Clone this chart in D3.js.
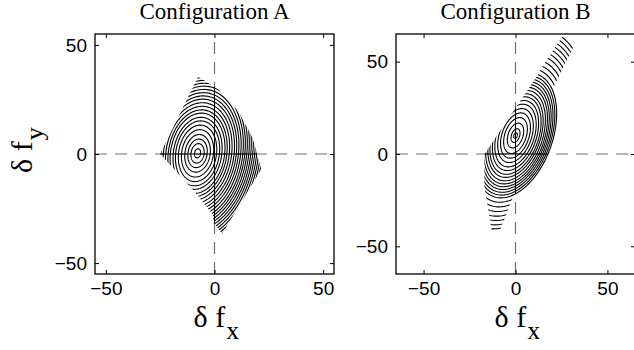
<!DOCTYPE html>
<meta charset="utf-8">
<script src="https://cdn.jsdelivr.net/npm/d3@7"></script>
<style>
body { margin: 0; background: #fff; }
.tick text { font-family: "Liberation Sans", Arial, sans-serif; font-size: 19px; fill: #000; }
.tick line { stroke: #000; stroke-width: 1; }
.lab { font-family: "Liberation Serif", "Times New Roman", serif; fill: #000; }
</style>
<body>
<script>

var width = 634
var height = 350

// axes
var ticks = [-50, 0, 50]
var limitsA = [-55, 55]
var limitsB = [-65, 65]
var titles = ["Configuration A", "Configuration B"]

// panel A : contour rings (minor semi axis), their centre and shape
var centreA = [-7.8, 0.3]
var ringsA = [1.4, 3.0, 4.4, 5.8, 7.3, 8.7, 10.0, 11.1, 12.4, 13.4, 14.5, 15.6, 16.7, 17.7, 18.7,
              19.7, 20.7, 21.6, 22.5, 23.4, 24.3, 25.2, 26.1, 27.0, 27.9, 28.8, 29.7, 30.6, 31.5, 32.4]
var stretchA = 1.5
var tiltA = 80
// feasible region A
var regionA = [[-25, 0], [-7.5, 35.5], [2, 29.5], [11, 19.5], [17.5, 7.5], [21.5, -7],
               [3.5, -36.5], [0, -32], [-1, -27.5], [-9.6, -16.7]]

// panel B : closed rings first, then the outer rings that only show near their ends
var centreB = [0, 10]
var ringsB = [0.9, 2.2, 4.0, 5.8, 7.3, 8.7, 10.1, 11.3, 12.5, 13.5, 14.6, 15.6, 16.5, 17.4, 18.3, 19.2, 20.1,
              21.5, 23.0, 24.5, 26.0, 27.4, 28.8, 30.1, 31.4, 32.7, 34.0]
var fullB = 17
var stretchB = 1.75
var tiltB = 70
var regionB = [[-16.8, 0], [30, 69.5], [70, 69.5], [70, -70], [-9, -70], [-17, -17]]
var tipsB = [
  [[3.1, 30], [27.7, 67], [36, 67], [17.6, 30]],
  [[-17, -10], [3.9, -10], [-8.5, -41.5], [-13, -41.5], [-17, -17]]
]

var svg = d3.select("body").append("svg")
            .attr("width", width)
            .attr("height", height)
var defs = svg.append("defs")

function ring(c, b, stretch, tilt) {
  var a = b * stretch, p = tilt * Math.PI / 180
  return d3.range(0, 360, 2).map(function(t) {
    t = t * Math.PI / 180
    var u = a * Math.cos(t), v = b * Math.sin(t)
    return [c[0] + u * Math.cos(p) - v * Math.sin(p), c[1] + u * Math.sin(p) + v * Math.cos(p)]
  })
}

function panel(o) {
  var x = d3.scaleLinear().domain(o.limits).range(o.xr)
  var y = d3.scaleLinear().domain(o.limits).range([274, 34])
  var line = d3.line().x(function(d) { return x(d[0]) }).y(function(d) { return y(d[1]) })
                      .curve(d3.curveLinearClosed)
  var g = svg.append("g")

  // dashed zero lines
  g.append("line").attr("x1", x(0)).attr("x2", x(0)).attr("y1", y.range()[0]).attr("y2", y.range()[1])
   .attr("stroke", "#6e6e6e").attr("stroke-width", 1.2).attr("stroke-dasharray", "12,8")
  g.append("line").attr("x1", x.range()[0]).attr("x2", x.range()[1]).attr("y1", y(0)).attr("y2", y(0))
   .attr("stroke", "#6e6e6e").attr("stroke-width", 1.2).attr("stroke-dasharray", "12,8")

  defs.append("clipPath").attr("id", o.id + "in").append("path").attr("d", line(o.region))
  defs.append("clipPath").attr("id", o.id + "ring").append("path")
      .attr("d", line(ring(o.centre, o.rings[o.full - 1], o.stretch, o.tilt)))
  if (o.tips) {
    defs.append("clipPath").attr("id", o.id + "tips").selectAll("path").data(o.tips)
        .join("path").attr("d", line)
  }

  var inner = g.append("g").attr("clip-path", "url(#" + o.id + "in)")
  inner.selectAll("path").data(o.rings.slice(0, o.full)).join("path")
       .attr("d", function(b) { return line(ring(o.centre, b, o.stretch, o.tilt)) })
       .attr("fill", "none").attr("stroke", "#000").attr("stroke-width", 1.1)

  if (o.tips) {
    g.append("g").attr("clip-path", "url(#" + o.id + "tips)")
     .selectAll("path").data(o.rings.slice(o.full)).join("path")
     .attr("d", function(b) { return line(ring(o.centre, b, o.stretch, o.tilt)) })
     .attr("fill", "none").attr("stroke", "#000").attr("stroke-width", 1.1)
  }

  // solid zero lines inside the region
  var z = inner.append("g").attr("clip-path", "url(#" + o.id + "ring)")
  z.append("line").attr("x1", x(0)).attr("x2", x(0)).attr("y1", y.range()[0]).attr("y2", y.range()[1])
   .attr("stroke", "#000").attr("stroke-width", 1)
  z.append("line").attr("x1", x.range()[0]).attr("x2", x.range()[1]).attr("y1", y(0)).attr("y2", y(0))
   .attr("stroke", "#000").attr("stroke-width", 1)

  // axes, ticks inside on all four sides
  g.append("g").attr("transform", "translate(0,274)")
   .call(d3.axisBottom(x).tickValues(ticks).tickSize(-4).tickPadding(8))
  g.append("g").attr("transform", "translate(0,34)")
   .call(d3.axisTop(x).tickValues(ticks).tickSize(-4).tickFormat(""))
  g.append("g").attr("transform", "translate(" + o.xr[0] + ",0)")
   .call(d3.axisLeft(y).tickValues(ticks).tickSize(-4).tickPadding(8))
  g.append("g").attr("transform", "translate(" + o.xr[1] + ",0)")
   .call(d3.axisRight(y).tickValues(ticks).tickSize(-4).tickFormat(""))
  g.selectAll(".domain").remove()

  g.append("rect").attr("x", o.xr[0]).attr("y", 34)
   .attr("width", o.xr[1] - o.xr[0]).attr("height", 240)
   .attr("fill", "none").attr("stroke", "#000").attr("stroke-width", 1.3)

  g.append("text").attr("class", "lab").attr("x", x(0)).attr("y", 19)
   .attr("text-anchor", "middle").style("font-size", "23px").text(o.title)

  var xl = g.append("text").attr("class", "lab").style("font-size", "30px")
            .attr("x", x(0) - 21).attr("y", 327)
  xl.append("tspan").text("δ f")
  xl.append("tspan").attr("dx", 1).attr("dy", "0.45em").style("font-size", "26px").text("x")
}

panel({id: "a", limits: limitsA, xr: [95, 334], centre: centreA, rings: ringsA, full: ringsA.length,
       stretch: stretchA, tilt: tiltA, region: regionA, title: titles[0]})
panel({id: "b", limits: limitsB, xr: [396, 635], centre: centreB, rings: ringsB, full: fullB,
       stretch: stretchB, tilt: tiltB, region: regionB, tips: tipsB, title: titles[1]})

var yl = svg.append("text").attr("class", "lab").style("font-size", "30px")
            .attr("transform", "translate(32,173) rotate(-90)")
yl.append("tspan").text("δ f")
yl.append("tspan").attr("dx", 1).attr("dy", "0.42em").style("font-size", "26px").text("y")

</script>
</body>
